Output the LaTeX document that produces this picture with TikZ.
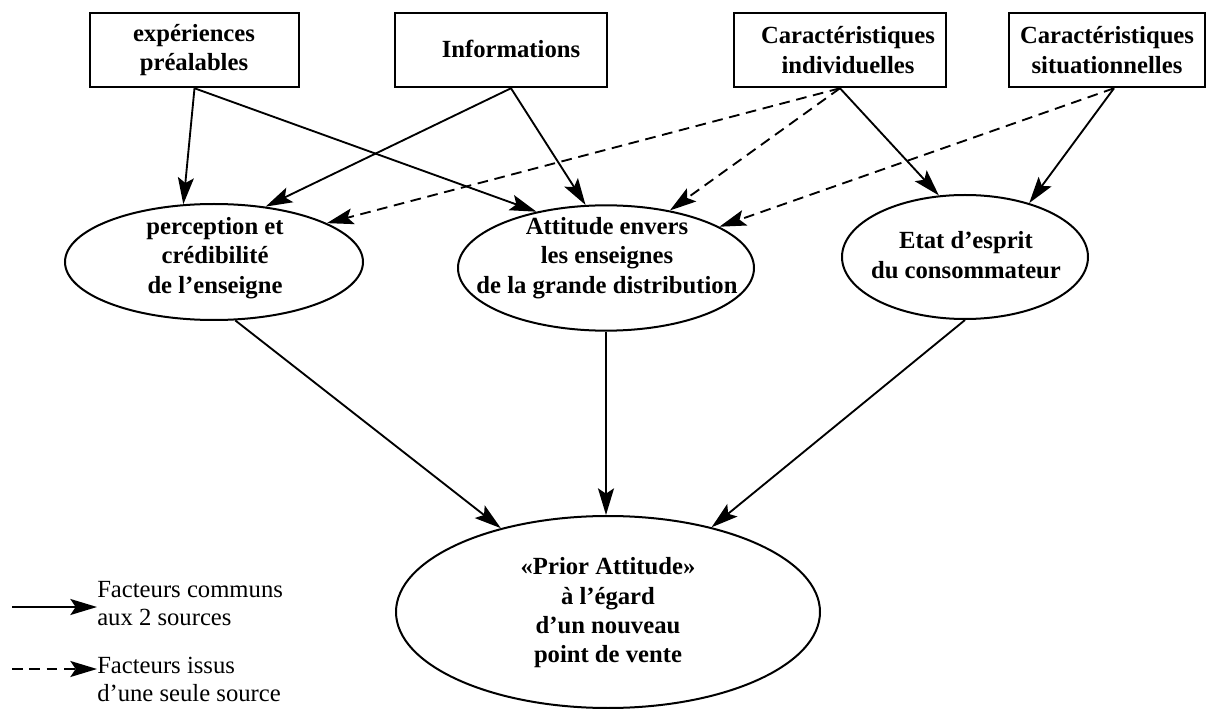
\documentclass[tikz,border=0pt]{standalone}
\usepackage{fontspec}
\setmainfont{Liberation Serif}
\usetikzlibrary{arrows.meta,shapes.geometric,calc}

\begin{document}
\begin{tikzpicture}[x=0.75pt,y=-0.75pt,
  factor/.style={draw, line width=1.9pt, rectangle, minimum height=55.5pt, inner sep=0pt},
  construct/.style={draw, ellipse, line width=1.5pt, inner sep=0pt},
  inlabel/.style={align=center, inner sep=0pt,
    font=\bfseries\fontsize{18.5}{22}\selectfont},
  link/.style={line width=1.4pt, -{Stealth[length=20pt,width=12pt,inset=4pt]}},
  partial/.style={link, dash pattern=on 8pt off 5pt},
  legendtext/.style={align=left, anchor=west, inner sep=0pt,
    font=\fontsize{18.5}{21}\selectfont}
]
\useasboundingbox (0,0) rectangle (1211,709);

% source factors
\node[factor, minimum width=156.75pt] (b1) at (194.5,50) {};
\node[inlabel] (u1) at (194,50) {expériences\\préalables};
\node[factor, minimum width=159pt] (b2) at (501,50) {};
\node[inlabel] (u2) at (511,49) {Informations};
\node[factor, minimum width=159pt] (b3) at (840,50) {};
\node[inlabel] (u3) at (848,50) {Caractéristiques\\individuelles};
\node[factor, minimum width=147pt] (b4) at (1107,50) {};
\node[inlabel] (u4) at (1107,50) {Caractéristiques\\situationnelles};

% intermediate constructs
\node[construct, minimum width=223.5pt, minimum height=87pt] (e1) at (214,262) {};
\node[inlabel] (t1) at (215,258) {perception et\\crédibilité\\de l’enseigne};
\node[construct, minimum width=222pt, minimum height=94pt] (e2) at (606,268) {};
\node[inlabel] (t2) at (607,258) {Attitude envers\\les enseignes\\de la grande distribution};
\node[construct, minimum width=184.5pt, minimum height=93pt] (e3) at (965,257) {};
\node[inlabel] (t3) at (966,255) {Etat d’esprit\\du consommateur};

% outcome
\node[construct, minimum width=318pt, minimum height=144pt] (e4) at (608,612) {};
\node[inlabel] (t4) at (608,613) {«Prior Attitude»\\à l’égard\\d’un nouveau\\point de vente};

% links from the sources
\draw[link] (b1.south) -- (e1.118);
\draw[link] (b1.south) -- (e2.141);
\draw[link] ($(b2.south)+(10,0)$) -- (e1.47);
\draw[link] ($(b2.south)+(10,0)$) -- (e2.108);
\draw[partial] (b3.south) -- (e1.19);
\draw[partial] (b3.south) -- (e2.42);
\draw[link] (b3.south) -- (e3.113);
\draw[partial] ($(b4.south)+(7,0)$) -- (e2.20);
\draw[link] ($(b4.south)+(7,0)$) -- (e3.40);

% links to the outcome
\draw[link] (e1.-70) -- (e4);
\draw[link] (e2.south) -- (e2.south |- e4.north);
\draw[link] (e3.south) -- (e4);

% legend
\node[legendtext] (l1) at (97,604) {Facteurs communs\\aux 2 sources};
\coordinate (s0) at (12,607);
\draw[link] (s0) -- (s0 -| l1.west);
\node[legendtext] (l2) at (97,679) {Facteurs issus\\d’une seule source};
\coordinate (d0) at (12,669);
\draw[partial] (d0) -- (d0 -| l2.west);
\end{tikzpicture}
\end{document}
